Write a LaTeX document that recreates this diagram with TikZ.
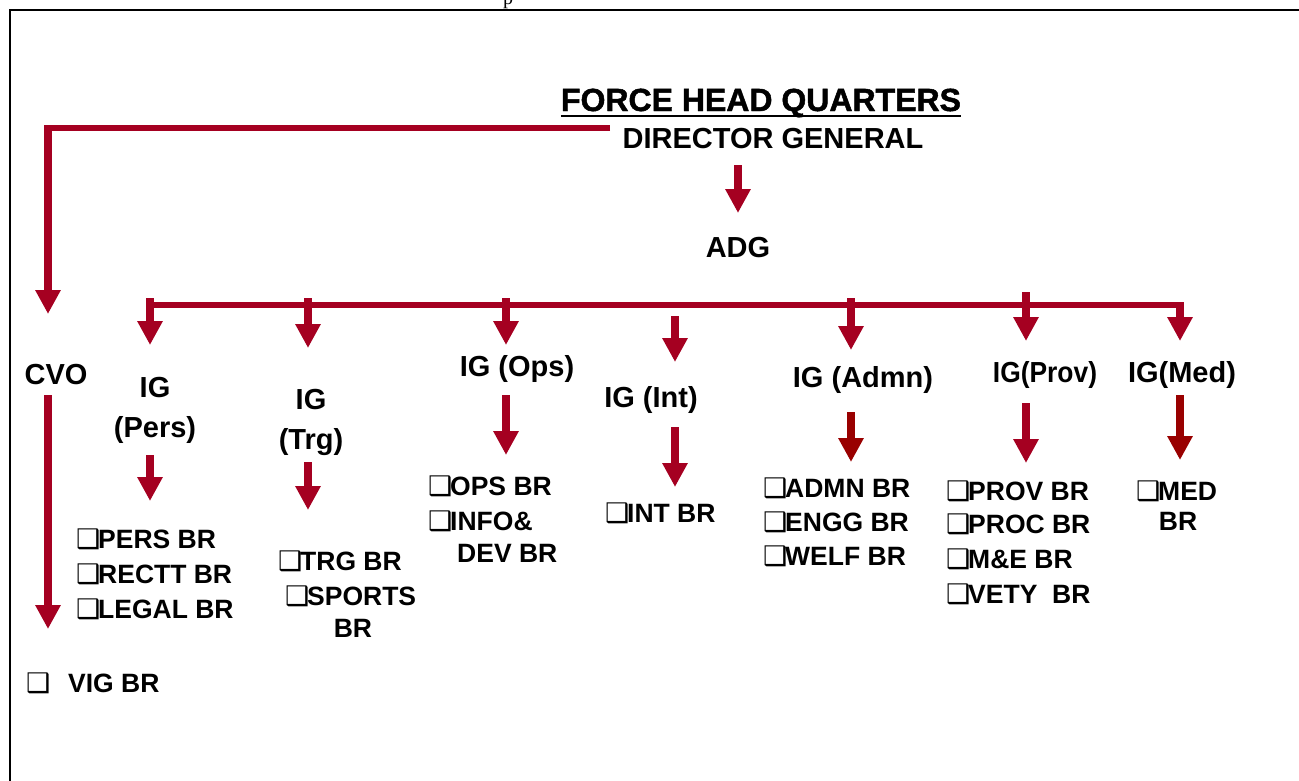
\documentclass[tikz,border=0pt]{standalone}
\usepackage{fontspec}
\setmainfont{Liberation Sans}
\newfontfamily\dvs{DejaVu Sans}
\newfontfamily\serifp{Liberation Serif}
\newfontfamily\heavy[BoldFeatures={FakeBold=1.5}]{Liberation Sans}
\usetikzlibrary{arrows.meta}
\definecolor{arrred}{RGB}{165,0,33}
\definecolor{darkarr}{RGB}{153,0,0}
\newcommand\bxg{\makebox[20pt][l]{\hspace{-2.1pt}{\dvs\fontsize{27}{27}\selectfont ❑}}}
\tikzset{
  lbl/.style={inner sep=0pt, font=\fontsize{29}{34}\selectfont\bfseries, anchor=base west},
  lblc/.style={lbl, anchor=base},
  brl/.style={lbl, font=\fontsize{26.5}{32}\selectfont\bfseries},
  brlc/.style={brl, anchor=base},
  arr/.style={draw=arrred, line width=8pt, -{Triangle[width=24pt,length=24pt]}},
  darr/.style={arr, draw=darkarr},
  bus/.style={draw=arrred, line width=6pt},
}
\begin{document}
\begin{tikzpicture}[x=1pt,y=-1pt]
\useasboundingbox (0,0) rectangle (1299,780);
% frame
\draw[line width=2pt] (1320,10) -- (10,10) -- (10,800);
\node[inner sep=0pt, anchor=base, font=\serifp\fontsize{20}{20}\selectfont] (ptop) at (508,4) {p};
% titles
\node[lblc, font=\heavy\fontsize{32}{34}\selectfont\bfseries] (fhq) at (761,111) {FORCE HEAD QUARTERS};
\draw[line width=2pt] ([yshift=-5pt]fhq.base west) -- ([yshift=-5pt]fhq.base east);
\node[lblc] (dg) at (773,148) {DIRECTOR GENERAL};
\node[lblc] (adg) at (738,257) {ADG};
\node[lblc] (cvo) at (56,384) {CVO};
\node[lblc] (igpersa) at (155,397) {IG};
\node[lblc] (igpersb) at (155,437) {(Pers)};
\node[lblc] (igtrga) at (311,409) {IG};
\node[lblc] (igtrgb) at (311,449) {(Trg)};
\node[lblc] (igops) at (517,376) {IG (Ops)};
\node[lblc] (igint) at (651,407) {IG (Int)};
\node[lblc] (igadmn) at (863,387) {IG (Admn)};
\node[lblc] (igprov) at (1045,382) {\scalebox{0.91}[1]{IG(Prov)}};
\node[lblc] (igmed) at (1182,382) {IG(Med)};
% branches
\node[brl] (persa) at (78,548) {\bxg PERS BR};
\node[brl] (persb) at (78,583) {\bxg RECTT BR};
\node[brl] (persc) at (78,618) {\bxg LEGAL BR};
\node[brl] (trga) at (280,570) {\bxg TRG BR};
\node[brl] (trgb) at (287,605) {\bxg SPORTS};
\node[brlc] (trgc) at (353,637) {BR};
\node[brl] (opsa) at (430,495) {\bxg OPS BR};
\node[brl] (opsb) at (430,530) {\bxg INFO\&};
\node[brl] (opsc) at (457,562) {DEV BR};
\node[brl] (inta) at (607,522) {\bxg INT BR};
\node[brl] (admna) at (765,497) {\bxg ADMN BR};
\node[brl] (admnb) at (765,531) {\bxg ENGG BR};
\node[brl] (admnc) at (765,565) {\bxg WELF BR};
\node[brl] (prova) at (948,500) {\bxg PROV BR};
\node[brl] (provb) at (948,533) {\bxg PROC BR};
\node[brl] (provc) at (948,568) {\bxg M\&E BR};
\node[brl] (provd) at (948,603) {\bxg VETY\ \ BR};
\node[brl] (meda) at (1138,500) {\bxg MED};
\node[brlc] (medb) at (1178,530) {BR};
\node[brl] (vig) at (28,692) {\bxg\hspace{20pt}VIG BR};
% connector coordinates
\coordinate (lstart) at (610,128);
\coordinate (lcorner) at (48,128);
\coordinate (cvotip) at (48,314);
\coordinate (busl) at (150,305);
\coordinate (busr) at (1184,305);
% L line to CVO
\draw[bus] (lstart) -- (44,128);
\draw[arr] (48,125) -- (cvotip);
% DG -> ADG
\draw[arr] (738,165) -- (738,213);
% bus
\draw[bus] (busl) -- (busr);
\draw[arr] (150,298) -- (150,345);
\draw[arr] (308,298) -- (308,348);
\draw[arr] (506,298) -- (506,345);
\draw[arr] (675,316) -- (675,362);
\draw[arr] (851,298) -- (851,350);
\draw[arr] (1026,292) -- (1026,341);
\draw[arr] (1180,302) -- (1180,341);
% lower arrows
\draw[arr] (48,395) -- (48,629);
\draw[arr] (150,455) -- (150,501);
\draw[arr] (308,462) -- (308,510);
\draw[arr] (506,395) -- (506,455);
\draw[arr] (675,427) -- (675,487);
\draw[darr] (851,412) -- (851,462);
\draw[arr] (1026,403) -- (1026,463);
\draw[darr] (1180,395) -- (1180,460);
\end{tikzpicture}
\end{document}
